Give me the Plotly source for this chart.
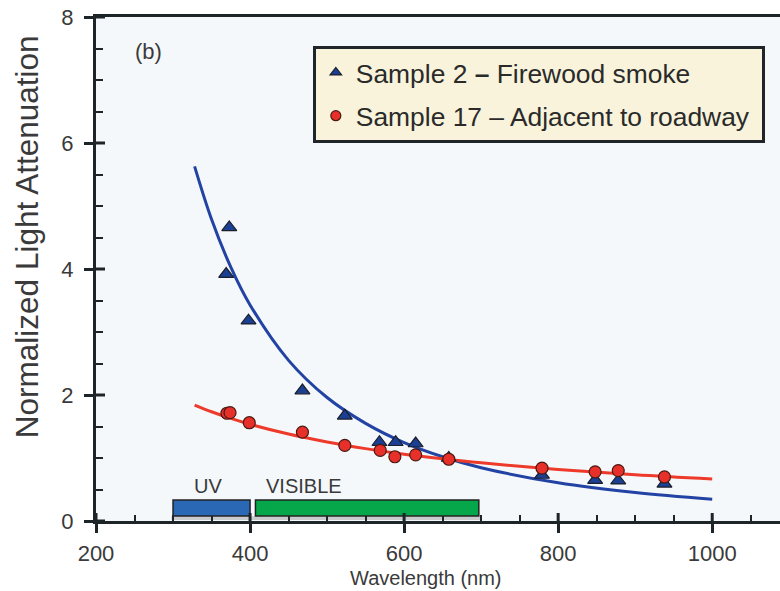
import plotly.graph_objects as go

# ---------------- data ----------------
s2_wavelength = [369, 373, 398, 468, 523, 568, 589, 615, 658, 779, 848, 878, 938]
s2_atten = [3.92, 4.66, 3.18, 2.07, 1.67, 1.25, 1.25, 1.23, 1.00, 0.73, 0.65, 0.64, 0.59]

s17_wavelength = [370, 374, 399, 468, 523, 569, 588, 615, 658, 779, 848, 878, 938]
s17_atten = [1.71, 1.72, 1.56, 1.41, 1.20, 1.12, 1.02, 1.05, 0.98, 0.84, 0.78, 0.80, 0.70]

# fitted curves
fit_wavelength = [328, 350, 375, 400, 450, 500, 550, 600, 650, 700, 800, 900, 1000]
fit_s2 = [5.63, 4.79, 4.03, 3.43, 2.55, 1.96, 1.55, 1.245, 1.02, 0.846, 0.606, 0.451, 0.345]
fit_s17 = [1.84, 1.734, 1.629, 1.536, 1.380, 1.254, 1.149, 1.06, 0.987, 0.923, 0.818, 0.734, 0.667]

band_names = ["UV", "VISIBLE"]
band_start = [300, 407]
band_end = [400, 697]
band_label_x = [346, 470]

legend_names = ["Sample 2 <b>\u2013</b> Firewood smoke", "Sample 17 \u2013 Adjacent to roadway\u00a0"]

x_major = [200, 400, 600, 800, 1000]
y_major = [0, 2, 4, 6, 8]

FONT = "Liberation Sans, Arial, Helvetica, sans-serif"
AX = "#1e2528"
TXT = "#3a3a3a"
BLUE = "#2243a3"
RED = "#ee3a2a"
TRI = dict(symbol="triangle-up", color="#1b3f92", line=dict(color="#1a1f2a", width=1.2))
CIR = dict(symbol="circle", color="#e8302a", line=dict(color="#4a1a12", width=1.2))

fig = go.Figure()

# fit curves
fig.add_trace(go.Scatter(x=fit_wavelength, y=fit_s2, mode="lines", line=dict(color=BLUE, width=3, shape="spline"),
                         showlegend=False, hoverinfo="skip"))
fig.add_trace(go.Scatter(x=fit_wavelength, y=fit_s17, mode="lines", line=dict(color=RED, width=3, shape="spline"),
                         showlegend=False, hoverinfo="skip"))

# markers
fig.add_trace(go.Scatter(x=s2_wavelength, y=s2_atten, mode="markers", name=legend_names[0], showlegend=False,
                         marker=dict(size=13, **TRI)))
fig.add_trace(go.Scatter(x=s17_wavelength, y=s17_atten, mode="markers", name=legend_names[1], showlegend=False,
                         marker=dict(size=12, **CIR)))
# legend entries (smaller symbols as in the reference)
fig.add_trace(go.Scatter(x=[None], y=[None], mode="markers", name=legend_names[0], legendgroup="a",
                         marker=dict(size=10, **TRI)))
fig.add_trace(go.Scatter(x=[None], y=[None], mode="markers", name=legend_names[1], legendgroup="b",
                         marker=dict(size=10, **CIR)))

shapes = []
# grey strip under bands
shapes.append(dict(type="rect", xref="x", yref="y", x0=band_start[0] - 2, x1=band_end[1] + 3, y0=0.015, y1=0.075,
                   fillcolor="#c9cbcc", line=dict(width=0), layer="below"))
band_colors = ["#2a67b5", "#06a64b"]
for i in range(len(band_names)):
    shapes.append(dict(type="rect", xref="x", yref="y", x0=band_start[i], x1=band_end[i], y0=0.08, y1=0.335,
                       fillcolor=band_colors[i], line=dict(color="#222222", width=1.5)))

# inner halves of major ticks (crossing ticks)
for v in x_major:
    shapes.append(dict(type="line", xref="x", yref="paper", ysizemode="pixel", yanchor=0,
                       x0=v, x1=v, y0=0, y1=8, line=dict(color=AX, width=3)))
for v in y_major:
    shapes.append(dict(type="line", xref="paper", yref="y", xsizemode="pixel", xanchor=0,
                       x0=0, x1=9, y0=v, y1=v, line=dict(color=AX, width=3)))

annotations = []
for i in range(len(band_names)):
    annotations.append(dict(x=band_label_x[i], y=0.56, xref="x", yref="y", text=band_names[i], showarrow=False,
                            xanchor="center", yanchor="middle",
                            font=dict(family=FONT, size=20, color=TXT)))
annotations.append(dict(x=268, y=7.46, xref="x", yref="y", text="(b)", showarrow=False,
                        xanchor="center", yanchor="middle",
                        font=dict(family=FONT, size=22, color=TXT)))
annotations.append(dict(x=-0.101, y=0.565, xref="paper", yref="paper", text="Normalized Light Attenuation",
                        textangle=-90, showarrow=False, xanchor="center", yanchor="middle",
                        font=dict(family=FONT, size=31.5, color=TXT)))
annotations.append(dict(x=628, y=-0.113, xref="x", yref="paper", text="Wavelength (nm)", showarrow=False,
                        xanchor="center", yanchor="middle",
                        font=dict(family=FONT, size=20, color=TXT)))

fig.update_layout(
    width=780, height=591,
    margin=dict(l=96, r=0, t=17, b=70, autoexpand=False),
    paper_bgcolor="white",
    plot_bgcolor="#f5f8fa",
    shapes=shapes,
    annotations=annotations,
    legend=dict(x=0.317, y=0.943, xanchor="left", yanchor="top", bgcolor="#f8f3da",
                bordercolor="#1f2528", borderwidth=3, traceorder="grouped", tracegroupgap=6,
                font=dict(family=FONT, size=26.4, color="#2a2a2a")),
    xaxis=dict(range=[200, 1088], showgrid=False, zeroline=False, showline=True, linecolor=AX, linewidth=3,
               mirror=True, tickvals=x_major, ticks="outside", ticklen=9, tickwidth=3, tickcolor=AX,
               minor=dict(dtick=50, ticks="inside", ticklen=6, tickwidth=2, tickcolor=AX),
               tickfont=dict(family=FONT, size=22, color=TXT), ticklabelstandoff=2, automargin=False,
               ticklabeloverflow="allow"),
    yaxis=dict(range=[0, 8], showgrid=False, zeroline=False, showline=True, linecolor=AX, linewidth=3,
               tickvals=y_major, ticks="outside", ticklen=9, tickwidth=3, tickcolor=AX,
               minor=dict(dtick=0.5, ticks="inside", ticklen=7, tickwidth=2, tickcolor=AX),
               tickfont=dict(family=FONT, size=22, color=TXT), ticklabelstandoff=6, automargin=False,
               ticklabeloverflow="allow"),
)

# remove the default 8px page margin so the 780x591 figure fills the window exactly
fig.write_html("out.html", config={"displayModeBar": False},
               post_script="document.body.style.margin='0';document.body.style.overflow='hidden';")
